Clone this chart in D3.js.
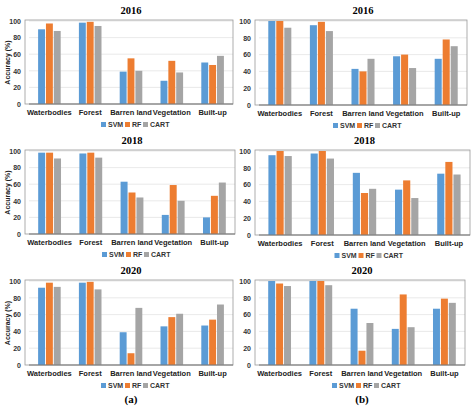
<!DOCTYPE html>
<html><head><meta charset="utf-8">
<script src="https://cdn.jsdelivr.net/npm/d3@7/dist/d3.min.js"></script>
<style>body{margin:0;background:#fff}</style></head>
<body><svg id="c" width="474" height="408"></svg>
<script>
const categories=["Waterbodies","Forest","Barren land","Vegetation","Built-up"];
const seriesNames=["SVM","RF","CART"];
const colors=["#5B9BD5","#ED7D31","#A5A5A5"];
const yTicks=[0,20,40,60,80,100];
const titles=["2016","2016","2018","2018","2020","2020"];
const a2016={SVM:[90,98,39,28,50],RF:[97,99,55,52,47],CART:[88,94,40,38,58]};
const b2016={SVM:[100,95,43,58,55],RF:[100,99,40,60,78],CART:[92,88,55,44,70]};
const a2018={SVM:[98,97,63,23,20],RF:[98,98,50,59,46],CART:[91,92,44,40,62]};
const b2018={SVM:[95,97,74,54,73],RF:[100,100,50,65,87],CART:[94,91,55,44,72]};
const a2020={SVM:[92,98,39,46,47],RF:[98,99,14,57,54],CART:[93,90,68,61,72]};
const b2020={SVM:[100,100,67,43,67],RF:[97,100,17,84,79],CART:[94,95,50,45,74]};
const panels=[a2016,b2016,a2018,b2018,a2020,b2020];
const boxes=[
 {x0:29,x1:233,yT:21,yB:104,lab:true},
 {x0:259,x1:467,yT:21,yB:105,lab:false},
 {x0:29,x1:235,yT:151,yB:234,lab:true},
 {x0:259,x1:470,yT:151,yB:235,lab:false},
 {x0:29,x1:233,yT:281,yB:365,lab:true},
 {x0:259,x1:465,yT:281,yB:365,lab:false}];
const svg=d3.select("#c");
panels.forEach((p,i)=>{
 const b=boxes[i];
 const g=svg.append("g");
 const x=d3.scaleBand().domain(categories).range([b.x0,b.x1]).paddingInner(0.4).paddingOuter(0.2);
 const xs=d3.scaleBand().domain(seriesNames).range([0,x.bandwidth()]).padding(0.12);
 const y=d3.scaleLinear().domain([0,100]).range([b.yB,b.yT]);
 g.selectAll(".gr").data(yTicks.slice(1)).join("line").attr("x1",b.x0).attr("x2",b.x1)
  .attr("y1",d=>y(d)).attr("y2",d=>y(d)).attr("stroke","#e3e3e3").attr("stroke-width",0.8);
 g.append("rect").attr("x",b.x0-4).attr("y",b.yT-1).attr("width",b.x1-b.x0+4).attr("height",b.yB-b.yT+1)
  .attr("fill","none").attr("stroke","#999").attr("stroke-width",0.8);
 seriesNames.forEach((s,si)=>{
  g.selectAll(".b"+si).data(p[s]).join("rect")
   .attr("x",(d,k)=>x(categories[k])+xs(s)).attr("width",xs.bandwidth())
   .attr("y",d=>y(d)).attr("height",d=>y(0)-y(d)).attr("fill",colors[si]);
 });
 g.append("line").attr("x1",b.x0).attr("x2",b.x1).attr("y1",y(0)).attr("y2",y(0)).attr("stroke","#777");
 const ya=g.append("g").attr("transform",`translate(${b.x0},0)`).call(d3.axisLeft(y).tickValues(yTicks).tickSize(0).tickPadding(8));
 ya.select(".domain").remove();
 ya.selectAll("text").attr("font-family","Liberation Sans, Arial").attr("font-size",7).attr("font-weight","bold").attr("fill","#333");
 const xa=g.append("g").attr("transform",`translate(0,${b.yB})`).call(d3.axisBottom(x).tickSize(0).tickPadding(6));
 xa.select(".domain").remove();
 xa.selectAll("text").attr("font-family","Liberation Sans, Arial").attr("font-size",7.5).attr("font-weight","bold").attr("fill","#222");
 g.append("text").attr("x",(b.x0+b.x1)/2).attr("y",b.yT-7).attr("text-anchor","middle")
  .attr("font-family","Liberation Serif, Times New Roman").attr("font-weight","bold").attr("font-size",10.5).text(titles[i]);
 if(b.lab) g.append("text").attr("transform",`translate(10,${(b.yT+b.yB)/2}) rotate(-90)`).attr("text-anchor","middle")
  .attr("font-family","Liberation Sans, Arial").attr("font-size",7).attr("font-weight","bold").attr("fill","#222").text("Accuracy (%)");
 const ly=b.yB+23, cx=(b.x0+b.x1)/2;
 const lx=[cx-30,cx-6,cx+12];
 seriesNames.forEach((s,si)=>{
  g.append("rect").attr("x",lx[si]).attr("y",ly-5).attr("width",5).attr("height",5).attr("fill",colors[si]);
  g.append("text").attr("x",lx[si]+7).attr("y",ly).attr("font-family","Liberation Sans, Arial").attr("font-size",7)
   .attr("font-weight","bold").attr("fill","#333").text(s);
 });
});
svg.append("text").attr("x",131).attr("y",403).attr("text-anchor","middle").attr("font-family","Liberation Serif, Times New Roman").attr("font-weight","bold").attr("font-size",11).text("(a)");
svg.append("text").attr("x",362).attr("y",403).attr("text-anchor","middle").attr("font-family","Liberation Serif, Times New Roman").attr("font-weight","bold").attr("font-size",11).text("(b)");
</script></body></html>
